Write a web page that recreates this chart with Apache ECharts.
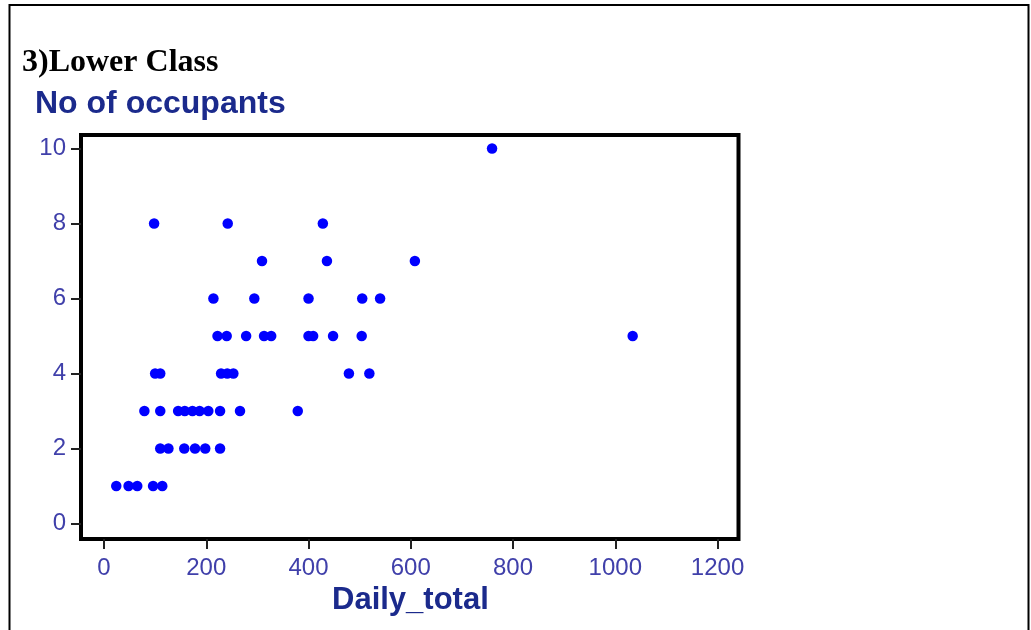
<!DOCTYPE html>
<html>
<head>
<meta charset="utf-8">
<script src="https://cdn.jsdelivr.net/npm/echarts@6/dist/echarts.min.js"></script>
<style>
  html, body { margin: 0; padding: 0; background: #fff; }
  #chart { width: 1031px; height: 630px; }
</style>
</head>
<body>
<div id="chart"></div>
<script>
// Daily total spending vs. number of occupants, lower-class households
const dailyTotal = [
  // 1 occupant
  24, 48, 65, 96, 114,
  // 2 occupants
  110, 126, 157, 178, 198, 227,
  // 3 occupants
  79, 110, 145, 158, 173, 187, 204, 227, 266, 379,
  // 4 occupants
  100, 110, 229, 241, 253, 479, 519,
  // 5 occupants
  222, 240, 278, 313, 327, 400, 409, 448, 504, 1034,
  // 6 occupants
  214, 294, 400, 505, 540,
  // 7 occupants
  309, 436, 608,
  // 8 occupants
  98, 242, 428,
  // 10 occupants
  759
];
const occupants = [
  1, 1, 1, 1, 1,
  2, 2, 2, 2, 2, 2,
  3, 3, 3, 3, 3, 3, 3, 3, 3, 3,
  4, 4, 4, 4, 4, 4, 4,
  5, 5, 5, 5, 5, 5, 5, 5, 5, 5,
  6, 6, 6, 6, 6,
  7, 7, 7,
  8, 8, 8,
  10
];
const xTicks = [0, 200, 400, 600, 800, 1000, 1200];
const yTicks = [0, 2, 4, 6, 8, 10];

const points = dailyTotal.map((v, i) => [v, occupants[i]]);

const tickLabelColor = '#4040aa';
const nameColor = '#1b2a8c';
const plain = v => String(v);

const chart = echarts.init(document.getElementById('chart'), null, { renderer: 'canvas' });
chart.setOption({
  backgroundColor: '#ffffff',
  animation: false,
  grid: {
    left: 81, top: 135, right: 292.5, bottom: 91,
    show: true, borderColor: '#000', borderWidth: 4, backgroundColor: '#fff'
  },
  xAxis: {
    type: 'value',
    min: -45, max: 1241,
    axisLine: { show: false, onZero: false },
    splitLine: { show: false },
    axisTick: { show: true, inside: false, length: 10, customValues: xTicks,
      lineStyle: { color: '#222', width: 2 } },
    axisLabel: { customValues: xTicks, formatter: plain, margin: 17, color: tickLabelColor,
      fontFamily: 'Liberation Sans, Arial, sans-serif', fontSize: 24 }
  },
  yAxis: {
    type: 'value',
    min: -0.413, max: 10.36,
    axisLine: { show: false, onZero: false },
    splitLine: { show: false },
    axisTick: { show: true, inside: false, length: 10, customValues: yTicks,
      lineStyle: { color: '#222', width: 2 } },
    axisLabel: { customValues: yTicks, formatter: plain, margin: 15, color: tickLabelColor,
      fontFamily: 'Liberation Sans, Arial, sans-serif', fontSize: 24 }
  },
  series: [{
    type: 'scatter',
    data: points,
    symbol: 'circle',
    symbolSize: 10.5,
    itemStyle: { color: '#0000ff', opacity: 1 }
  }],
  graphic: [
    {
      type: 'polyline',
      shape: { points: [[9.5, 630], [9.5, 5], [1028.5, 5], [1028.5, 630]] },
      style: { stroke: '#000', lineWidth: 2, fill: null },
      silent: true
    },
    {
      type: 'text', left: 22, top: 47,
      style: { text: '3)Lower Class', fill: '#000',
        font: 'bold 32px "Liberation Serif", "Times New Roman", serif' }
    },
    {
      type: 'text', left: 35, top: 88,
      style: { text: 'No of occupants', fill: nameColor,
        font: 'bold 32px "Liberation Sans", Arial, sans-serif' }
    },
    {
      type: 'text', left: 332, top: 585,
      style: { text: 'Daily_total', fill: nameColor,
        font: 'bold 31px "Liberation Sans", Arial, sans-serif' }
    }
  ]
});
</script>
</body>
</html>
